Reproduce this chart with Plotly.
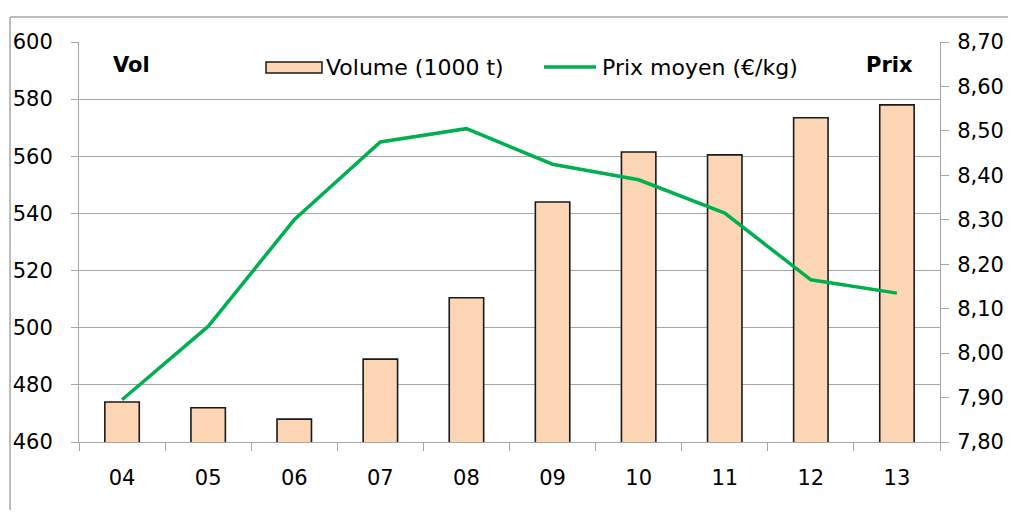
import plotly.graph_objects as go

years = ["04", "05", "06", "07", "08", "09", "10", "11", "12", "13"]
volume = [474, 472, 468, 489, 510.5, 544, 561.5, 560.5, 573.5, 578]
prix = [7.895, 8.06, 8.30, 8.475, 8.505, 8.425, 8.39, 8.315, 8.165, 8.135]

FONT = "DejaVu Sans"
GRID = "#A6A6A6"
BAR_FILL = "#FCD5B5"
LINE_COL = "#00B050"
FS = 21

fig = go.Figure()
fig.add_trace(go.Bar(
    x=years, y=volume, name="Volume (1000 t)",
    marker=dict(color=BAR_FILL, line=dict(color="#1a1a1a", width=1.6)),
    width=0.4, yaxis="y",
))
fig.add_trace(go.Scatter(
    x=years, y=prix, name="Prix moyen (€/kg)", mode="lines",
    line=dict(color=LINE_COL, width=3.5), yaxis="y2",
))

# page body has an 8px margin; size/margins compensate so plot area sits at 79..940 x 42..442
fig.update_layout(
    width=1000, height=502,
    margin=dict(l=71, r=68, t=34, b=68),
    paper_bgcolor="white", plot_bgcolor="white",
    separators=",.",
    font=dict(family=FONT, size=FS, color="#000000"),
    showlegend=False,
    xaxis=dict(type="category", showgrid=False, ticks="outside", tickson="boundaries",
               ticklen=8, tickcolor=GRID, showline=True, linecolor=GRID, linewidth=1,
               tickfont=dict(family=FONT, size=FS), range=[-0.5, 9.5],
               ticklabelstandoff=17, automargin=False),
    yaxis=dict(range=[460, 600], dtick=20, showgrid=True, gridcolor=GRID, gridwidth=1,
               ticks="outside", ticklen=7, tickcolor=GRID, showline=True, linecolor=GRID,
               tickfont=dict(family=FONT, size=FS), zeroline=False,
               ticklabelstandoff=14, automargin=False),
    yaxis2=dict(range=[7.8, 8.7], dtick=0.1, tickformat=".2f", overlaying="y", side="right",
                showgrid=False, ticks="outside", ticklen=8, tickcolor=GRID, showline=True,
                linecolor=GRID, tickfont=dict(family=FONT, size=FS), zeroline=False,
                ticklabelstandoff=4, automargin=False),
)

# custom legend (Excel-style wide swatches)
fig.add_shape(type="rect", xref="paper", yref="paper", x0=0.2172, x1=0.2822,
              y0=0.9225, y1=0.95, fillcolor=BAR_FILL, line=dict(color="#1a1a1a", width=1.5))
fig.add_annotation(text="Volume (1000 t)", xref="paper", yref="paper", x=0.2846, y=0.9375,
                   xanchor="left", yanchor="middle", showarrow=False,
                   font=dict(family=FONT, size=22))
fig.add_shape(type="line", xref="paper", yref="paper", x0=0.540, x1=0.6005,
              y0=0.9375, y1=0.9375, line=dict(color=LINE_COL, width=3.5))
fig.add_annotation(text="Prix moyen (€/kg)", xref="paper", yref="paper", x=0.605, y=0.9375,
                   xanchor="left", yanchor="middle", showarrow=False,
                   font=dict(family=FONT, size=22))

fig.add_annotation(text="<b>Vol</b>", xref="paper", yref="paper", x=0.037, y=0.9425,
                   xanchor="left", yanchor="middle", showarrow=False,
                   font=dict(family=FONT, size=FS))
fig.add_annotation(text="<b>Prix</b>", xref="paper", yref="paper", x=0.971, y=0.9425,
                   xanchor="right", yanchor="middle", showarrow=False,
                   font=dict(family=FONT, size=FS))

# outer chart frame (left and top edges)
fig.add_shape(type="line", xref="paper", yref="paper", x0=-0.0801, x1=-0.0801,
              y0=-0.3, y1=1.0625, line=dict(color=GRID, width=1.5))
fig.add_shape(type="line", xref="paper", yref="paper", x0=-0.0801, x1=1.2,
              y0=1.0625, y1=1.0625, line=dict(color=GRID, width=1.5))

fig.write_html("out.html")
